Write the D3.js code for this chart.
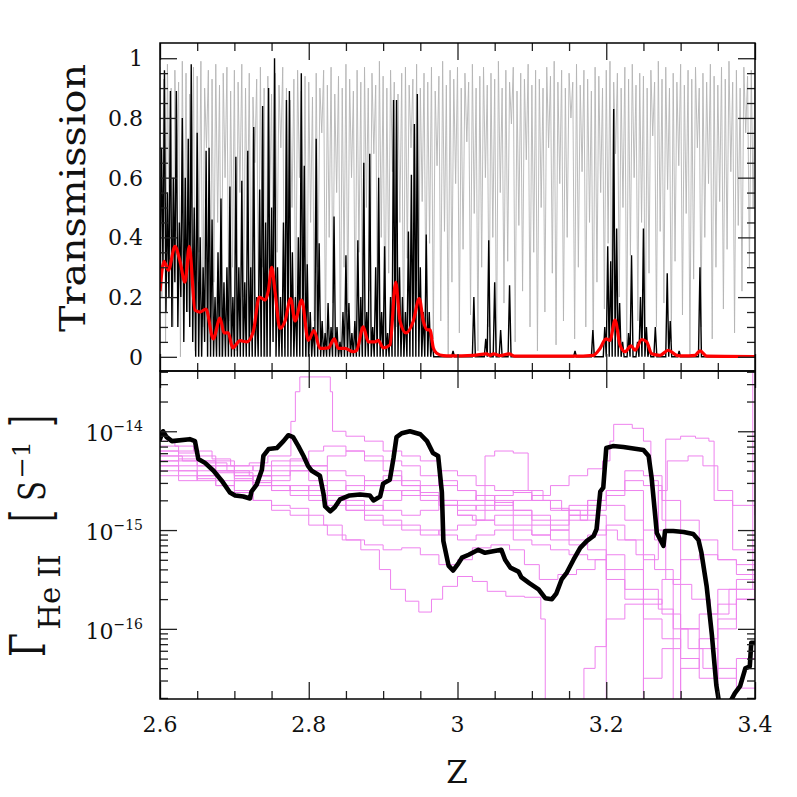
<!DOCTYPE html>
<html>
<head>
<meta charset="utf-8">
<script src="https://d3js.org/d3.v7.min.js"></script>
<style>
  body { margin: 0; background: #fff; }
  svg text { font-family: "DejaVu Serif", serif; fill: #111; }
</style>
</head>
<body>
<script>
// ---------- data ----------
// spectra are sampled on a regular redshift grid starting at specZ0
const specZ0 = 2.6;

// grey: transmission, one sample every 0.0025 in z
const grayStep = 0.0025;
const grayT = [
  .97,.2,.93,.05,.98,.4,.9,.1,.96,.6,.92,0,.99,.3,.95,.15,.88,.5,.97,.02,
  .94,.35,.99,.1,.9,.7,.96,.05,.93,.25,.98,.45,.91,0,.95,.6,.97,.12,.89,.3,
  .96,.02,.92,.55,.98,.2,.9,.4,.95,.08,.87,.65,.93,.15,.97,.3,.9,0,.94,.5,
  .88,.1,.95,.35,.91,.7,.97,.03,.9,.25,.86,.5,.93,.1,.96,.6,.89,.2,.94,0,
  .92,.45,.87,.12,.95,.3,.9,.75,.96,.05,.91,.4,.97,.18,.88,.55,.94,.02,.9,.3,
  .98,.15,.93,.6,.89,.08,.96,.35,.92,0,.97,.5,.9,.22,.95,.68,.91,.1,.99,.4,
  .94,.03,.9,.28,.96,.62,.92,.1,.88,.45,.95,0,.97,.33,.91,.7,.93,.15,.98,.05,
  .9,.52,.95,.2,.92,.38,.97,.06,.89,.64,.94,.12,.99,.42,.91,0,.96,.25,.93,.58,
  .97,.08,.9,.36,.95,.72,.92,.14,.98,.48,.9,.02,.94,.3,.97,.6,.91,.1,.95,.4,
  .93,0,.99,.55,.9,.18,.96,.32,.92,.78,.97,.05,.89,.44,.95,.22,.93,.66,.98,.1,
  .91,.35,.96,.02,.93,.5,.9,.15,.97,.7,.94,.28,.99,.04,.92,.58,.96,.12,.9,.4,
  .95,.8,.92,.06,.98,.3,.91,.62,.96,.1,.93,.45,.89,0,.97,.25,.94,.55,.9,.16,
  .96,.38,.99,.08,.92,.68,.95,.2,.9,.5,.97,.03,.93,.34,.98,.6,.91,.12,.95,.45,
  .94,.02,.9,.28,.96,.74,.92,.1,.99,.42,.93,.18,.97,.56,.9,.05,.95,.32,.92,.64,
  .98,.14,.91,.48,.96,0,.93,.26,.97,.7,.9,.1,.95,.4,.92,.58,.98,.06,.94,.3,
  .91,.52,.97,.16,.93,.36,.99,.62,.92,.08,.96,.44,.9,.22,.97,.75,.94,.3,.96,.5,
  .95
];

// black: transmission, one sample every 0.002 in z
const blackStep = 0.002;
const blackT = [
  .25,.7,.3,.96,.15,.55,.2,.89,.1,.6,.25,.89,.1,.45,.2,.8,.05,.6,.15,.73,
  .1,.98,.05,.5,0,.75,0,.4,0,.3,.05,.69,0,.7,0,.46,0,.2,0,.35,
  0,.53,0,.25,0,.3,0,.57,0,.2,0,.67,0,.3,0,.59,0,.25,0,.69,
  0,.3,0,.77,0,.2,0,.56,0,.84,0,.45,0,.9,0,.5,.05,1,0,.3,
  0,.2,0,.45,0,.86,0,.89,0,.35,0,.2,0,.4,0,.95,0,.64,0,.31,
  0,.15,0,.1,0,.73,0,.38,0,.12,0,.08,0,.18,0,.1,0,.47,0,.1,
  0,.05,0,.15,0,.34,0,.18,0,.08,0,.12,0,.39,0,.2,0,.65,0,.15,
  0,.68,0,.1,0,.3,0,.6,0,.15,0,.37,0,.08,0,.2,0,.86,0,.86,
  0,.3,0,.2,0,.15,0,.42,0,.61,0,.78,0,.88,0,.3,0,.15,0,.41,
  0,.15,0,.05,0,0,0,0,0,0,0,0,0,0,0,0,0,.02,0,0,
  0,0,0,0,0,0,0,0,0,0,0,.2,0,0,0,0,0,0,0,.06,
  0,.39,0,0,0,.25,0,0,0,.09,0,0,0,0,0,.24,0,0,0,0,
  0,0,0,0,0,0,0,0,0,0,0,0,0,0,0,0,0,0,0,0,
  0,0,0,0,0,0,0,0,0,0,0,0,0,0,0,0,0,0,0,.02,
  0,0,0,0,0,0,0,0,0,0,0,.09,0,0,0,0,0,0,0,.1,
  0,.37,0,.32,0,.83,0,.43,0,.18,0,.05,0,0,0,.08,0,.34,0,0,
  0,.05,0,.2,0,.43,0,.1,0,.03,0,0,0,.1,0,0,0,0,0,0,
  0,.28,0,.12,0,0,0,0,0,.02,0,0,0,0,0,0,0,0,0,0,
  0,0,0,.3,0,0,0,0,0,0,0,0,0,0,0,0,0,0,0,0,
  0,0,0,0,0,0,0,0,0,0,0,0,0,0,0,0,0,0,0,0,
  0
];

// red: smoothed transmission
const redZ = [2.6,2.6054,2.6112,2.6202,2.6269,2.6336,2.6394,2.6471,2.6538,2.6618,2.6717,2.6807,2.6861,2.6918,2.6977,
  2.7076,2.7166,2.7254,2.7335,2.7412,2.7456,2.7502,2.7546,2.7613,2.7681,2.7757,2.7815,2.7905,2.7994,2.8071,2.8151,
  2.8263,2.8344,2.8397,2.8487,2.8599,2.8645,2.8733,2.8801,2.8891,2.8935,2.9002,2.9092,2.9169,2.9227,2.9308,2.9406,
  2.9486,2.954,2.9599,2.963,2.9675,2.972,2.981,2.9899,3.0213,3.0393,3.0437,3.0482,3.0571,3.0692,3.0773,3.1553,3.1826,
  3.1916,3.1997,3.205,3.2118,3.2185,3.2252,3.2333,3.2387,3.2477,3.2544,3.2611,3.2723,3.2834,3.2947,3.3032,3.3193,
  3.3261,3.3351,3.4];
const redT = [.22,.32,.29,.37,.32,.25,.37,.156,.15,.16,.06,.13,.08,.08,.03,
  .054,.05,.084,.2,.19,.22,.3,.22,.095,.12,.195,.12,.19,.055,.088,.028,
  .03,.06,.028,.028,.017,.022,.1,.05,.05,.055,.03,.04,.25,.12,.08,.12,
  .195,.12,.09,.09,.03,.012,.004,.003,.005,.01,.005,.01,.004,.01,.002,.002,.005,
  .028,.06,.055,.123,.04,.017,.037,.022,.058,.05,.01,.005,.022,.005,.003,.005,
  .02,.002,.001];

// thick black: log10 of Gamma_HeII [s^-1]
const gammaZ = [2.6,2.604,2.609,2.616,2.64,2.647,2.6515,2.6605,2.672,2.683,2.694,2.701,2.712,2.721,2.723,2.73,
  2.737,2.739,2.746,2.757,2.766,2.7725,2.779,2.786,2.793,2.799,2.804,2.815,2.82,2.822,2.829,2.835,2.842,2.855,
  2.869,2.882,2.887,2.896,2.9,2.909,2.914,2.918,2.925,2.936,2.95,2.959,2.967,2.974,2.979,2.981,2.988,2.994,
  3.001,3.006,3.015,3.028,3.037,3.059,3.064,3.071,3.082,3.086,3.097,3.109,3.118,3.127,3.133,3.14,3.147,3.156,
  3.165,3.174,3.183,3.187,3.192,3.196,3.2,3.209,3.223,3.241,3.25,3.257,3.261,3.268,3.277,3.279,3.29,3.304,
  3.317,3.324,3.328,3.335,3.342,3.348,3.355,3.373,3.38,3.387,3.393,3.395,3.4];
const gammaLog = [-14.08,-14.0,-14.06,-14.1,-14.08,-14.1,-14.28,-14.32,-14.4,-14.5,-14.62,-14.65,-14.66,-14.68,-14.61,-14.54,
  -14.39,-14.25,-14.18,-14.17,-14.1,-14.04,-14.06,-14.15,-14.25,-14.35,-14.4,-14.45,-14.64,-14.76,-14.81,-14.77,-14.69,-14.65,
  -14.64,-14.65,-14.7,-14.66,-14.53,-14.49,-14.27,-14.06,-14.02,-14.0,-14.03,-14.1,-14.22,-14.25,-14.62,-15.11,-15.36,-15.41,
  -15.34,-15.28,-15.25,-15.2,-15.23,-15.2,-15.3,-15.38,-15.42,-15.48,-15.54,-15.6,-15.69,-15.7,-15.64,-15.5,-15.43,-15.3,
  -15.18,-15.11,-15.06,-14.99,-14.61,-14.57,-14.17,-14.15,-14.16,-14.18,-14.19,-14.25,-14.47,-15.03,-15.16,-15.01,-15.01,-15.02,
  -15.04,-15.1,-15.23,-15.57,-16.06,-16.57,-16.9,-16.65,-16.58,-16.4,-16.38,-16.14,-16.14];

// thin magenta: other sightlines, [z, log10 Gamma]
const magA = [[2.6,-14.1],[2.62,-14.15],[2.645,-14.2],[2.67,-14.28],[2.695,-14.35],[2.72,-14.32],[2.745,-14.25],[2.776,-13.9],[2.782,-13.6],[2.788,-13.45],[2.829,-13.6],[2.832,-14.0],[2.85,-14.05],[2.875,-14.1],[2.9,-14.2],[2.925,-14.25],[2.95,-14.3],[2.975,-14.4],[3.0,-14.45],[3.025,-14.55],[3.05,-14.6],[3.075,-14.62],[3.1,-14.7],[3.125,-14.78],[3.15,-14.85],[3.175,-14.75],[3.2,-14.6],[3.225,-14.5],[3.25,-14.55],[3.275,-14.7],[3.3,-14.9],[3.325,-15.1],[3.35,-15.3],[3.375,-15.45],[3.4,-15.5]];
const magB = [[2.6,-14.4],[2.625,-14.45],[2.65,-14.5],[2.675,-14.55],[2.7,-14.62],[2.725,-14.7],[2.75,-14.75],[2.775,-14.78],[2.8,-14.85],[2.82,-14.95],[2.845,-15.1],[2.87,-15.2],[2.895,-15.4],[2.91,-15.6],[2.93,-15.72],[2.948,-15.83],[2.965,-15.7],[2.98,-15.57],[3.0,-15.47],[3.02,-15.52],[3.04,-15.62],[3.065,-15.67],[3.09,-15.68],[3.112,-15.9],[3.118,-17.2],[3.17,-16.4],[3.185,-16.18],[3.2,-15.9],[3.225,-15.75],[3.25,-15.7],[3.275,-15.85],[3.3,-16.0],[3.325,-16.2],[3.35,-16.4],[3.375,-16.6],[3.4,-16.6]];
const magC = [[2.6,-14.2],[2.625,-14.25],[2.65,-14.3],[2.675,-14.35],[2.7,-14.45],[2.725,-14.5],[2.75,-14.55],[2.775,-14.6],[2.8,-14.65],[2.825,-14.7],[2.85,-14.75],[2.875,-14.8],[2.9,-14.7],[2.925,-14.6],[2.95,-14.65],[2.975,-14.75],[3.0,-14.85],[3.02,-14.9],[3.037,-14.25],[3.05,-14.2],[3.075,-14.22],[3.095,-14.6],[3.115,-14.7],[3.14,-14.8],[3.165,-14.9],[3.19,-15.0],[3.215,-15.1],[3.24,-15.25],[3.265,-15.4],[3.29,-15.55],[3.315,-15.7],[3.34,-15.85],[3.365,-15.6],[3.4,-15.5]];
const magD = [[2.6,-14.3],[2.625,-14.35],[2.65,-14.4],[2.675,-14.5],[2.7,-14.6],[2.725,-14.7],[2.75,-14.8],[2.775,-14.85],[2.8,-14.95],[2.825,-15.05],[2.85,-15.1],[2.875,-15.15],[2.9,-15.2],[2.925,-15.18],[2.95,-15.25],[2.975,-15.35],[3.0,-15.3],[3.02,-15.18],[3.045,-15.15],[3.07,-15.2],[3.09,-15.35],[3.11,-15.5],[3.135,-15.45],[3.16,-15.4],[3.185,-15.3],[3.2,-15.25],[3.225,-15.4],[3.25,-15.6],[3.27,-15.8],[3.29,-16.0],[3.31,-16.2],[3.33,-16.4],[3.35,-16.5],[3.375,-16.3],[3.4,-16.2]];
const magE = [[2.6,-14.15],[2.625,-14.2],[2.65,-14.25],[2.675,-14.3],[2.7,-14.35],[2.725,-14.4],[2.75,-14.35],[2.775,-14.3],[2.8,-14.4],[2.825,-14.5],[2.85,-14.6],[2.875,-14.55],[2.9,-14.5],[2.925,-14.55],[2.95,-14.62],[2.975,-14.7],[3.0,-14.75],[3.025,-14.8],[3.05,-14.75],[3.075,-14.7],[3.1,-14.65],[3.125,-14.55],[3.15,-14.45],[3.175,-14.38],[3.195,-14.3],[3.205,-14.1],[3.21,-13.93],[3.235,-13.97],[3.25,-14.1],[3.26,-14.5],[3.27,-15.0],[3.28,-15.5],[3.29,-17.2],[3.4,-17.2]];
const magF = [[2.6,-14.25],[2.625,-14.3],[2.65,-14.35],[2.675,-14.4],[2.7,-14.42],[2.725,-14.45],[2.75,-14.5],[2.775,-14.4],[2.8,-14.35],[2.825,-14.4],[2.85,-14.45],[2.875,-14.55],[2.9,-14.6],[2.925,-14.65],[2.95,-14.7],[2.975,-14.75],[3.0,-14.7],[3.025,-14.65],[3.05,-14.72],[3.075,-14.8],[3.1,-14.9],[3.125,-14.95],[3.15,-14.85],[3.175,-14.8],[3.2,-14.75],[3.225,-14.9],[3.25,-15.0],[3.265,-15.1],[3.28,-14.08],[3.3,-14.05],[3.32,-14.07],[3.338,-14.1],[3.345,-14.7],[3.37,-14.75],[3.4,-14.85]];
const magG = [[2.6,-14.35],[2.625,-14.4],[2.65,-14.48],[2.675,-14.55],[2.7,-14.5],[2.725,-14.45],[2.75,-14.55],[2.775,-14.6],[2.8,-14.55],[2.825,-14.65],[2.85,-14.7],[2.875,-14.75],[2.9,-14.8],[2.925,-14.85],[2.95,-14.8],[2.975,-14.75],[3.0,-14.85],[3.025,-14.9],[3.05,-14.95],[3.075,-15.0],[3.1,-15.05],[3.125,-15.1],[3.15,-15.15],[3.175,-15.05],[3.2,-14.95],[3.225,-15.1],[3.25,-15.3],[3.27,-14.6],[3.282,-14.3],[3.31,-14.25],[3.33,-14.35],[3.35,-14.6],[3.37,-15.2],[3.4,-15.4]];
const magH = [[2.6,-14.45],[2.625,-14.5],[2.65,-14.45],[2.675,-14.4],[2.7,-14.45],[2.725,-14.55],[2.75,-14.6],[2.775,-14.65],[2.8,-14.7],[2.825,-14.75],[2.85,-14.8],[2.875,-14.85],[2.9,-14.9],[2.925,-14.95],[2.95,-15.0],[2.975,-15.05],[3.0,-15.1],[3.025,-15.05],[3.05,-15.0],[3.075,-15.1],[3.1,-15.15],[3.125,-15.2],[3.15,-15.25],[3.175,-15.3],[3.2,-15.5],[3.225,-15.7],[3.25,-15.9],[3.275,-16.1],[3.3,-16.3],[3.325,-16.5],[3.35,-16.0],[3.375,-15.6],[3.397,-13.4],[3.4,-13.4]];
const magJ = [[2.6,-14.2],[2.625,-14.22],[2.65,-14.3],[2.675,-14.35],[2.7,-14.4],[2.725,-14.35],[2.75,-14.3],[2.775,-14.28],[2.8,-14.35],[2.825,-14.25],[2.85,-14.2],[2.875,-14.3],[2.9,-14.4],[2.925,-14.5],[2.95,-14.55],[2.975,-14.5],[3.0,-14.6],[3.025,-14.7],[3.05,-14.65],[3.075,-14.6],[3.1,-14.7],[3.125,-14.8],[3.15,-14.75],[3.175,-14.7],[3.2,-14.6],[3.225,-14.4],[3.25,-14.45],[3.275,-14.9],[3.3,-17.2],[3.35,-15.6],[3.375,-15.5],[3.4,-15.4]];
const magK = [[2.6,-14.3],[2.625,-14.28],[2.65,-14.35],[2.675,-14.42],[2.7,-14.48],[2.725,-14.52],[2.75,-14.45],[2.775,-14.4],[2.8,-14.5],[2.825,-14.6],[2.85,-14.55],[2.875,-14.5],[2.9,-14.45],[2.925,-14.55],[2.95,-14.65],[2.975,-14.7],[3.0,-14.8],[3.025,-14.75],[3.05,-14.7],[3.075,-14.8],[3.1,-14.85],[3.125,-14.9],[3.15,-14.8],[3.175,-14.7],[3.2,-14.65],[3.225,-14.6],[3.25,-17.2],[3.3,-16.4],[3.325,-16.1],[3.35,-15.9],[3.375,-15.7],[3.4,-15.6]];
const magL = [[2.6,-14.35],[2.625,-14.4],[2.65,-14.45],[2.675,-14.4],[2.7,-14.5],[2.725,-14.55],[2.75,-14.6],[2.775,-14.55],[2.8,-14.6],[2.825,-14.7],[2.85,-14.8],[2.875,-14.9],[2.9,-14.95],[2.925,-15.0],[2.95,-15.05],[2.975,-15.0],[3.0,-14.95],[3.025,-14.9],[3.05,-14.85],[3.075,-14.95],[3.1,-15.05],[3.125,-15.0],[3.15,-14.9],[3.175,-14.85],[3.2,-17.2],[3.25,-16.5],[3.275,-16.2],[3.3,-16.0],[3.325,-15.85],[3.35,-15.75],[3.375,-15.7],[3.4,-15.7]];
const magM = [[2.6,-14.25],[2.63,-14.3],[2.66,-14.32],[2.69,-14.4],[2.72,-14.45],[2.75,-14.4],[2.775,-14.35],[2.8,-14.2],[2.82,-14.15],[2.85,-14.2],[2.875,-14.25],[2.9,-14.3],[2.925,-14.35],[2.95,-14.45],[2.975,-14.55],[3.0,-14.6],[3.025,-14.7],[3.05,-14.8],[3.075,-14.85],[3.1,-14.95],[3.125,-15.0],[3.15,-15.1],[3.175,-15.2],[3.2,-15.4],[3.225,-15.6],[3.25,-15.75],[3.275,-15.5],[3.3,-15.3],[3.325,-15.25],[3.35,-15.3],[3.375,-15.35],[3.4,-15.4]];
const magentaLines = [magA, magB, magC, magD, magE, magF, magG, magH, magJ, magK, magL, magM];

// tick labels
const zTicks = [2.6, 2.8, 3, 3.2, 3.4];
const transTicks = [0, 0.2, 0.4, 0.6, 0.8, 1];
const gammaDecades = [-16, -15, -14];

// ---------- layout ----------
const W = 797, H = 797;
const left = 160, right = 755, top1 = 43, mid = 371, bot2 = 699;

const svg = d3.select("body").append("svg")
    .attr("width", W).attr("height", H);

const x = d3.scaleLinear().domain([2.6, 3.4]).range([left, right]);
const yT = d3.scaleLinear().domain([-0.0475, 1.051]).range([mid, top1]);
const yG = d3.scaleLog().domain([Math.pow(10, -16.71), Math.pow(10, -13.39)]).range([bot2, mid]);

const defs = svg.append("defs");
defs.append("clipPath").attr("id", "clipTop").append("rect")
    .attr("x", left).attr("y", top1).attr("width", right - left).attr("height", mid - top1);
defs.append("clipPath").attr("id", "clipBot").append("rect")
    .attr("x", left).attr("y", mid).attr("width", right - left).attr("height", bot2 - mid);

// ---------- top panel: transmission ----------
let topG = svg.append("g").attr("clip-path", "url(#clipTop)");

let grayLine = d3.line()
    .x((d, i) => x(specZ0 + i * grayStep))
    .y(d => yT(d));
topG.append("path").datum(grayT)
    .attr("d", grayLine)
    .attr("fill", "none").attr("stroke", "#b4b4b4").attr("stroke-width", 0.9);

let blackLine = d3.line()
    .x((d, i) => x(specZ0 + i * blackStep))
    .y(d => yT(d));
topG.append("path").datum(blackT)
    .attr("d", blackLine)
    .attr("fill", "none").attr("stroke", "#000").attr("stroke-width", 1.4);

let redLine = d3.line()
    .curve(d3.curveMonotoneX)
    .x((d, i) => x(redZ[i]))
    .y(d => yT(d));
topG.append("path").datum(redT)
    .attr("d", redLine)
    .attr("fill", "none").attr("stroke", "#ff0000").attr("stroke-width", 3.2)
    .attr("stroke-linejoin", "round");

// ---------- bottom panel: photoionisation rate ----------
let botG = svg.append("g").attr("clip-path", "url(#clipBot)");

let magLine = d3.line()
    .curve(d3.curveStepAfter)
    .x(d => x(d[0]))
    .y(d => yG(Math.pow(10, d[1])));
botG.selectAll(".mag").data(magentaLines).enter()
    .append("path").attr("class", "mag")
    .attr("d", magLine)
    .attr("fill", "none").attr("stroke", "#ee82ee").attr("stroke-width", 1);

let gammaLine = d3.line()
    .x((d, i) => x(gammaZ[i]))
    .y(d => yG(Math.pow(10, d)));
botG.append("path").datum(gammaLog)
    .attr("d", gammaLine)
    .attr("fill", "none").attr("stroke", "#000").attr("stroke-width", 4.6)
    .attr("stroke-linejoin", "round").attr("stroke-linecap", "round");

// ---------- axes (ticks point inwards on all sides) ----------
const bigTick = 17, smallTick = 8;
const zMinor = d3.range(2.6, 3.4001, 0.05).filter(v => Math.abs(v * 5 - Math.round(v * 5)) > 1e-6);
const tMinor = d3.range(0, 1.0001, 0.05).filter(v => Math.abs(v * 5 - Math.round(v * 5)) > 1e-6);
let gMinor = [];
[-17, -16, -15, -14].forEach(e => {
  for (let k = 2; k <= 9; k++) gMinor.push(k * Math.pow(10, e));
});
gMinor = gMinor.filter(v => v > yG.domain()[0] && v < yG.domain()[1]);
const gMajor = gammaDecades.map(e => Math.pow(10, e));

function addAxis(axisFn, scale, values, size, tx, ty) {
  let g = svg.append("g")
      .attr("transform", `translate(${tx},${ty})`)
      .call(axisFn(scale).tickValues(values).tickSize(-size).tickFormat(""));
  g.select(".domain").remove();
  g.selectAll(".tick line").attr("stroke", "#222").attr("stroke-width", 1.3);
}

// top panel
addAxis(d3.axisLeft, yT, transTicks, bigTick, left, 0);
addAxis(d3.axisLeft, yT, tMinor, smallTick, left, 0);
addAxis(d3.axisRight, yT, transTicks, bigTick, right, 0);
addAxis(d3.axisRight, yT, tMinor, smallTick, right, 0);
addAxis(d3.axisTop, x, zTicks, bigTick, 0, top1);
addAxis(d3.axisTop, x, zMinor, smallTick, 0, top1);
addAxis(d3.axisBottom, x, zTicks, bigTick, 0, mid);
addAxis(d3.axisBottom, x, zMinor, smallTick, 0, mid);
// bottom panel
addAxis(d3.axisLeft, yG, gMajor, bigTick, left, 0);
addAxis(d3.axisLeft, yG, gMinor, smallTick, left, 0);
addAxis(d3.axisRight, yG, gMajor, bigTick, right, 0);
addAxis(d3.axisRight, yG, gMinor, smallTick, right, 0);
addAxis(d3.axisTop, x, zTicks, bigTick, 0, mid);
addAxis(d3.axisTop, x, zMinor, smallTick, 0, mid);
addAxis(d3.axisBottom, x, zTicks, bigTick, 0, bot2);
addAxis(d3.axisBottom, x, zMinor, smallTick, 0, bot2);

// frames
svg.append("rect").attr("x", left).attr("y", top1).attr("width", right - left).attr("height", mid - top1)
    .attr("fill", "none").attr("stroke", "#000").attr("stroke-width", 1.5);
svg.append("rect").attr("x", left).attr("y", mid).attr("width", right - left).attr("height", bot2 - mid)
    .attr("fill", "none").attr("stroke", "#000").attr("stroke-width", 1.5);

// ---------- labels ----------
transTicks.forEach(v => {
  svg.append("text")
      .attr("x", 143).attr("y", yT(v) + 8)
      .attr("text-anchor", "end").attr("font-size", 22)
      .text(String(v));
});

zTicks.forEach(v => {
  svg.append("text")
      .attr("x", x(v)).attr("y", 732)
      .attr("text-anchor", "middle").attr("font-size", 22)
      .text(String(v));
});

gammaDecades.forEach(e => {
  let t = svg.append("text")
      .attr("x", 143).attr("y", yG(Math.pow(10, e)))
      .attr("text-anchor", "end").attr("font-size", 22);
  t.append("tspan").attr("dy", 10).text("10");
  t.append("tspan").attr("dy", -10).attr("font-size", 14).text("\u2212" + Math.abs(e));
});

svg.append("text")
    .attr("x", 457).attr("y", 783)
    .attr("text-anchor", "middle")
    .attr("font-size", 31)
    .text("Z");

svg.append("text")
    .attr("transform", "translate(85,198) rotate(-90)")
    .attr("text-anchor", "middle")
    .attr("font-size", 36)
    .attr("textLength", 268).attr("lengthAdjust", "spacingAndGlyphs")
    .text("Transmission");

// Gamma_{He II} [s^-1], built piece by piece
function rotLabel(px, py, size, str, len) {
  let t = svg.append("text")
      .attr("transform", `translate(${px},${py}) rotate(-90)`)
      .attr("text-anchor", "middle")
      .attr("font-size", size)
      .text(str);
  if (len) t.attr("textLength", len).attr("lengthAdjust", "spacingAndGlyphs");
  return t;
}
rotLabel(45, 645, 48, "\u0393", 24);
rotLabel(60, 592, 30, "He II", 75);
rotLabel(50, 516, 54, "[", 12);
rotLabel(45, 491, 37, "S", 20);
rotLabel(30, 460, 24, "\u22121", 38);
rotLabel(50, 421, 54, "]", 12);
</script>
</body>
</html>
